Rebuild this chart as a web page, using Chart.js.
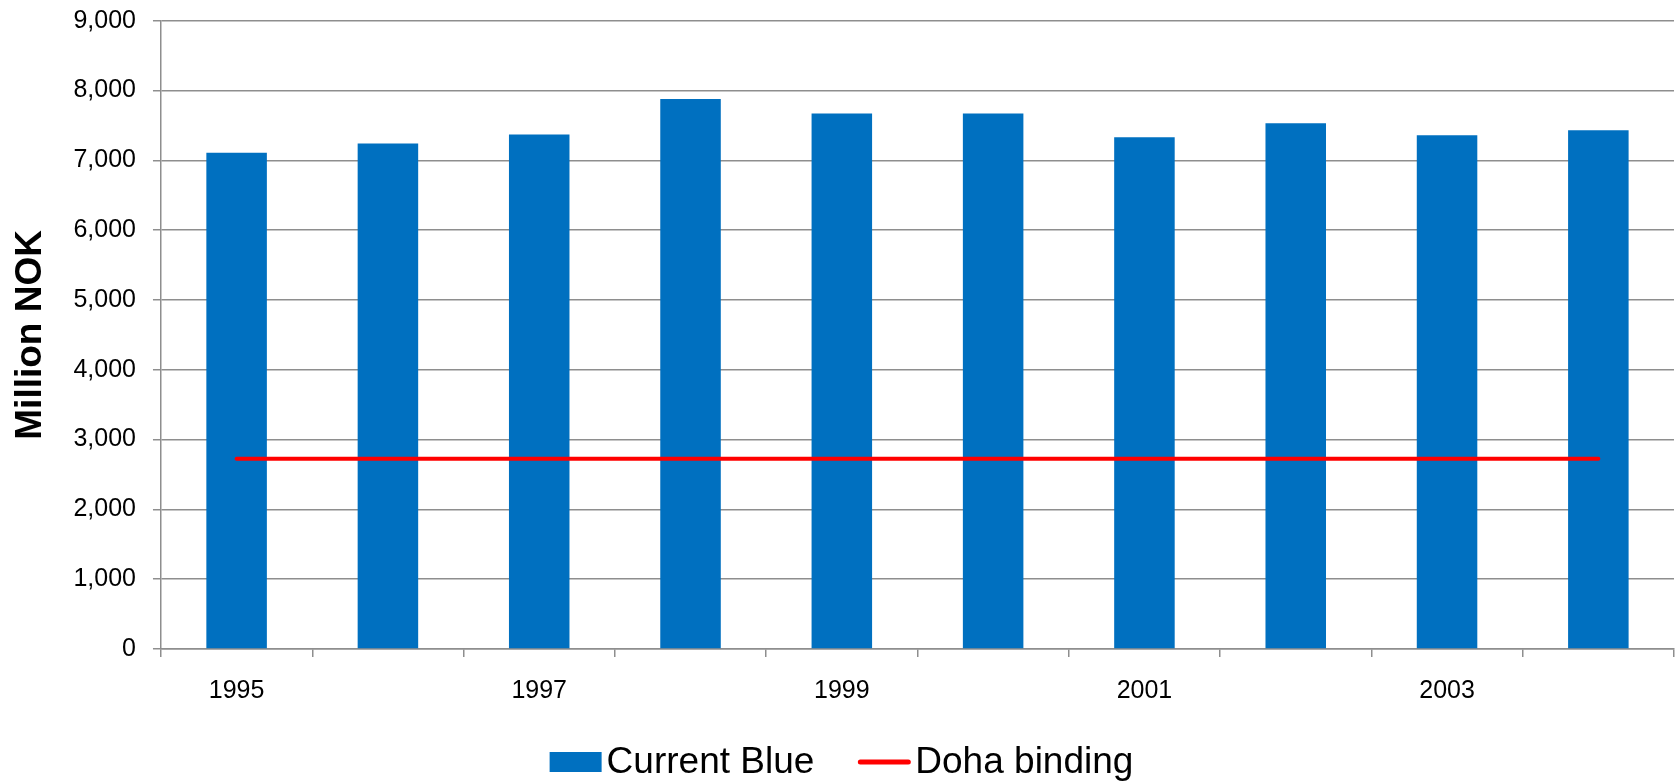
<!DOCTYPE html>
<html>
<head>
<meta charset="utf-8">
<title>Current Blue vs Doha binding</title>
<script src="https://cdn.jsdelivr.net/npm/chart.js@4.4.1/dist/chart.umd.min.js"></script>
<style>
  html, body { margin: 0; padding: 0; background: #fff; }
  #wrap { width: 1677px; height: 784px; position: relative; }
</style>
</head>
<body>
<div id="wrap"><canvas id="myChart"></canvas></div>
<script>
// values (million NOK)
const years = ["1995", "1996", "1997", "1998", "1999", "2000", "2001", "2002", "2003", "2004"];
const shownYears = ["1995", "1997", "1999", "2001", "2003"];
const currentBlue = [7110, 7240, 7370, 7880, 7670, 7670, 7330, 7530, 7360, 7430];
const dohaBinding = [2725, 2725, 2725, 2725, 2725, 2725, 2725, 2725, 2725, 2725];

const FONT = "'Liberation Sans', Arial, sans-serif";
const GRID = "#8e8e8e";

// legend drawn under the plot, like the original (small gap between mark and text)
const bottomLegend = {
  id: "bottomLegend",
  afterDraw(chart) {
    const ctx = chart.ctx;
    const sets = chart.data.datasets;
    const markW = 52, gap = 5, itemGap = 44;
    const cy = 762;
    ctx.save();
    ctx.font = "37px " + FONT;
    ctx.textBaseline = "middle";
    let total = 0;
    sets.forEach((ds, i) => {
      total += markW + gap + ctx.measureText(ds.label).width;
      if (i < sets.length - 1) total += itemGap;
    });
    let x = chart.width / 2 + 3 - total / 2;
    sets.forEach((ds) => {
      if (ds.type === "line") {
        ctx.strokeStyle = ds.borderColor;
        ctx.lineWidth = 5;
        ctx.lineCap = "round";
        ctx.beginPath();
        ctx.moveTo(x + 2, cy);
        ctx.lineTo(x + markW - 2, cy);
        ctx.stroke();
      } else {
        ctx.fillStyle = ds.backgroundColor;
        ctx.fillRect(x, cy - 10, markW, 20);
      }
      x += markW + gap;
      ctx.fillStyle = "#000";
      ctx.fillText(ds.label, x, cy + 1);
      x += ctx.measureText(ds.label).width + itemGap;
    });
    ctx.restore();
  }
};

function initChart(target) {
  const chart = new Chart(target, {
    data: {
      labels: years,
      datasets: [
        {
          type: "bar",
          label: "Current Blue",
          data: currentBlue,
          backgroundColor: "#0070c0",
          borderWidth: 0,
          barPercentage: 0.4,
          categoryPercentage: 1.0,
          order: 1,
        },
        {
          type: "line",
          label: "Doha binding",
          data: dohaBinding,
          borderColor: "#ff0000",
          borderWidth: 4,
          borderCapStyle: "round",
          pointRadius: 0,
          fill: false,
          order: 0,
        },
      ],
    },
    options: {
      responsive: true,
      maintainAspectRatio: false,
      animation: false,
      layout: { padding: { top: 0, right: 3, bottom: 59, left: 0 } },
      plugins: {
        legend: { display: false },
        tooltip: { enabled: false },
      },
      scales: {
        x: {
          offset: true,
          grid: {
            offset: true,
            drawOnChartArea: false,
            drawTicks: true,
            tickLength: 8,
            color: GRID,
            lineWidth: 1.5,
          },
          border: { color: GRID, width: 1.5 },
          ticks: {
            autoSkip: false,
            maxRotation: 0,
            padding: 19,
            color: "#000",
            font: { family: FONT, size: 25 },
            callback: function (value, index) {
              const lbl = years[index];
              return shownYears.includes(lbl) ? lbl : "";
            },
          },
        },
        y: {
          min: 0,
          max: 9000,
          grid: { color: GRID, lineWidth: 1.5, tickLength: 8 },
          border: { color: GRID, width: 1.5 },
          ticks: {
            stepSize: 1000,
            padding: 17,
            color: "#000",
            font: { family: FONT, size: 25, lineHeight: 0.3 },
            callback: (v) => v.toLocaleString("en-US"),
          },
          title: {
            display: true,
            text: "Million NOK",
            color: "#000",
            font: { family: FONT, size: 37, weight: "bold" },
            padding: { top: 9, bottom: 3 },
          },
        },
      },
    },
    plugins: [bottomLegend],
  });
  return chart;
}

document.addEventListener("DOMContentLoaded", () => {
  initChart(document.querySelector("#myChart"));
});
</script>
</body>
</html>
